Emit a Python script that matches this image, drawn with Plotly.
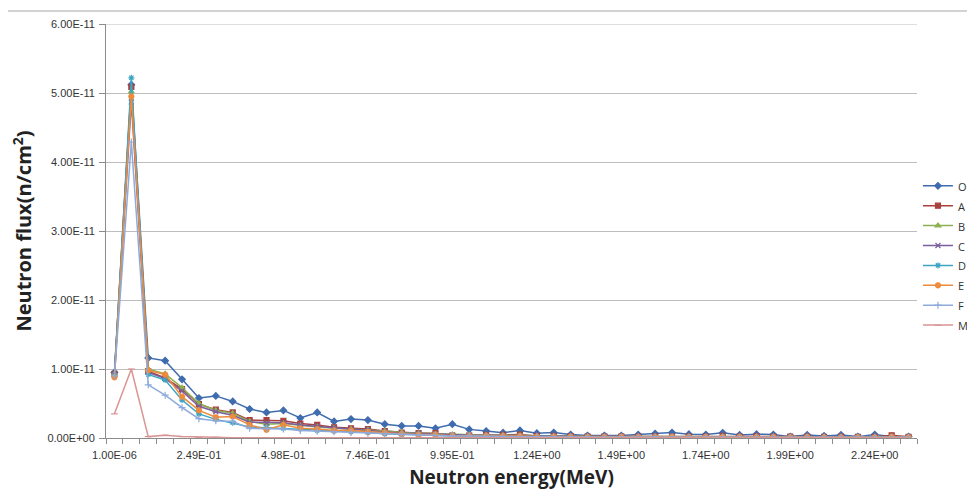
import plotly.graph_objects as go

# Energy categories (MeV)
energy = ["1.00E-06", "4.98E-02", "9.95E-02", "1.49E-01", "1.99E-01",
          "2.49E-01", "2.99E-01", "3.48E-01", "3.98E-01", "4.48E-01",
          "4.98E-01", "5.47E-01", "5.97E-01", "6.47E-01", "6.97E-01",
          "7.46E-01", "7.96E-01", "8.46E-01", "8.96E-01", "9.45E-01",
          "9.95E-01", "1.04E+00", "1.09E+00", "1.14E+00", "1.19E+00",
          "1.24E+00", "1.29E+00", "1.34E+00", "1.39E+00", "1.44E+00",
          "1.49E+00", "1.54E+00", "1.59E+00", "1.64E+00", "1.69E+00",
          "1.74E+00", "1.79E+00", "1.84E+00", "1.89E+00", "1.94E+00",
          "1.99E+00", "2.04E+00", "2.09E+00", "2.14E+00", "2.19E+00",
          "2.24E+00", "2.29E+00", "2.34E+00"]

x_tick_labels = ["1.00E-06", "2.49E-01", "4.98E-01", "7.46E-01", "9.95E-01",
                 "1.24E+00", "1.49E+00", "1.74E+00", "1.99E+00", "2.24E+00"]

# Flux values in units of 1E-11 n/cm2
O = [0.95, 5.12, 1.16, 1.12, 0.85, 0.58, 0.61, 0.53, 0.42, 0.37,
     0.40, 0.29, 0.37, 0.24, 0.275, 0.26, 0.20, 0.175, 0.175, 0.14,
     0.20, 0.125, 0.10, 0.077, 0.11, 0.07, 0.08, 0.05, 0.035, 0.035,
     0.035, 0.05, 0.065, 0.08, 0.055, 0.05, 0.075, 0.045, 0.055, 0.05,
     0.02, 0.045, 0.03, 0.045, 0.02, 0.05, 0.02, 0.02]
A = [0.93, 5.09, 0.97, 0.87, 0.71, 0.49, 0.41, 0.37, 0.26, 0.26,
     0.25, 0.21, 0.19, 0.155, 0.14, 0.13, 0.10, 0.08, 0.07, 0.07,
     0.035, 0.035, 0.045, 0.045, 0.05, 0.03, 0.03, 0.025, 0.02, 0.02,
     0.02, 0.02, 0.025, 0.02, 0.02, 0.02, 0.03, 0.02, 0.025, 0.02,
     0.02, 0.02, 0.015, 0.02, 0.015, 0.015, 0.04, 0.015]
B = [0.93, 5.02, 1.00, 0.93, 0.73, 0.50, 0.40, 0.36, 0.24, 0.20,
     0.21, 0.18, 0.16, 0.14, 0.13, 0.12, 0.10, 0.08, 0.07, 0.06,
     0.05, 0.045, 0.04, 0.04, 0.035, 0.03, 0.025, 0.025, 0.02, 0.02,
     0.02, 0.02, 0.02, 0.02, 0.02, 0.015, 0.02, 0.015, 0.02, 0.02,
     0.015, 0.015, 0.015, 0.015, 0.015, 0.015, 0.015, 0.015]
C = [0.92, 4.87, 0.95, 0.86, 0.68, 0.46, 0.38, 0.33, 0.23, 0.22,
     0.22, 0.19, 0.17, 0.15, 0.13, 0.12, 0.09, 0.07, 0.07, 0.06,
     0.04, 0.04, 0.04, 0.035, 0.03, 0.025, 0.025, 0.02, 0.02, 0.02,
     0.02, 0.015, 0.02, 0.02, 0.015, 0.015, 0.02, 0.015, 0.015, 0.015,
     0.015, 0.015, 0.01, 0.015, 0.01, 0.015, 0.01, 0.01]
D = [0.90, 5.22, 0.92, 0.84, 0.55, 0.35, 0.27, 0.22, 0.16, 0.15,
     0.14, 0.13, 0.11, 0.10, 0.09, 0.08, 0.06, 0.05, 0.05, 0.04,
     0.03, 0.03, 0.03, 0.025, 0.025, 0.02, 0.02, 0.015, 0.015, 0.015,
     0.015, 0.015, 0.015, 0.015, 0.01, 0.01, 0.015, 0.01, 0.01, 0.01,
     0.01, 0.01, 0.01, 0.01, 0.01, 0.01, 0.01, 0.01]
E = [0.88, 4.95, 0.98, 0.92, 0.60, 0.40, 0.30, 0.31, 0.19, 0.12,
     0.19, 0.14, 0.13, 0.11, 0.11, 0.09, 0.08, 0.06, 0.05, 0.05,
     0.03, 0.03, 0.035, 0.03, 0.03, 0.02, 0.02, 0.02, 0.015, 0.015,
     0.02, 0.015, 0.015, 0.02, 0.015, 0.015, 0.015, 0.015, 0.015, 0.015,
     0.01, 0.015, 0.01, 0.01, 0.01, 0.01, 0.02, 0.01]
F = [0.90, 4.29, 0.77, 0.62, 0.44, 0.28, 0.25, 0.24, 0.14, 0.14,
     0.13, 0.11, 0.10, 0.09, 0.08, 0.07, 0.06, 0.05, 0.04, 0.04,
     0.03, 0.03, 0.025, 0.02, 0.02, 0.02, 0.015, 0.015, 0.015, 0.01,
     0.01, 0.01, 0.015, 0.01, 0.01, 0.01, 0.01, 0.01, 0.01, 0.01,
     0.01, 0.01, 0.01, 0.01, 0.01, 0.01, 0.01, 0.01]
M = [0.35, 1.00, 0.02, 0.04, 0.02, 0.01, 0.01, 0.005, 0.005, 0.005,
     0.004, 0.004, 0.004, 0.003, 0.003, 0.003, 0.003, 0.003, 0.003, 0.002,
     0.002, 0.002, 0.002, 0.002, 0.002, 0.002, 0.002, 0.002, 0.002, 0.002,
     0.002, 0.002, 0.002, 0.002, 0.002, 0.002, 0.002, 0.002, 0.002, 0.002,
     0.002, 0.002, 0.002, 0.002, 0.002, 0.002, 0.002, 0.002]

UNIT = 1e-11

y_tick_values = [0, 1e-11, 2e-11, 3e-11, 4e-11, 5e-11, 6e-11]
y_tick_labels = ["0.00E+00", "1.00E-11", "2.00E-11", "3.00E-11",
                 "4.00E-11", "5.00E-11", "6.00E-11"]

series_names = ["O", "A", "B", "C", "D", "E", "F", "M"]
series_data = [O, A, B, C, D, E, F, M]
colors = ["#3F6CAF", "#A8423F", "#8DB052", "#7A5E9E", "#3FA4C2",
          "#EE8B3C", "#8EAADB", "#D99593"]
symbols = ["diamond", "square", "triangle-up", "x-thin-open", "asterisk-open",
           "circle", "cross-thin-open", "line-ew-open"]

fig = go.Figure()
for name, vals, col, sym in zip(series_names, series_data, colors, symbols):
    fig.add_trace(go.Scatter(
        x=energy, y=[v * UNIT for v in vals],
        mode="lines+markers", name="<span style='font-size:11px'>%s</span>" % name,
        line=dict(color=col, width=1.5),
        marker=dict(symbol=sym, size=5, color=col,
                    line=dict(color=col, width=1.2)),
    ))

ticktext_all = [e if e in x_tick_labels else " " for e in energy]

# The page body has an 8px margin, so the figure is 8px smaller and the
# margins are reduced accordingly to land the plot area where the reference has it.
fig.update_layout(
    width=967, height=486,
    margin=dict(l=98, r=58, t=16, b=56, autoexpand=False),
    paper_bgcolor="white", plot_bgcolor="white",
    font=dict(family="Open Sans, Liberation Sans, sans-serif", color="#222222"),
    showlegend=True,
    legend=dict(x=1.069, xanchor="right", y=0.44, yanchor="middle",
                font=dict(size=13, color="#333333"),
                bgcolor="rgba(0,0,0,0)", itemwidth=30, tracegroupgap=0),
    xaxis=dict(
        type="category", categoryorder="array", categoryarray=energy,
        tickmode="array", tickvals=energy, ticktext=ticktext_all,
        tickson="boundaries", ticks="outside", ticklen=5, tickcolor="#8c8c8c",
        ticklabelstandoff=7,
        showline=True, linecolor="#8c8c8c", linewidth=1,
        showgrid=False, zeroline=False, automargin=False,
        tickfont=dict(size=11, family="Liberation Sans, Arial, sans-serif", color="#333333"),
        tickangle=0,
        title=dict(text="<b>Neutron energy(MeV)</b>",
                   font=dict(size=19, family="Open Sans, sans-serif", color="#222222"),
                   standoff=10),
        range=[-0.5, len(energy) - 0.5],
    ),
    yaxis=dict(
        range=[0, 6e-11], tickmode="array", tickvals=y_tick_values,
        ticktext=y_tick_labels, ticks="outside", ticklen=6, tickcolor="#8c8c8c",
        ticklabelstandoff=2,
        showline=True, linecolor="#8c8c8c", linewidth=1,
        showgrid=True, gridcolor="#bdbdbd", gridwidth=1.2, zeroline=False,
        automargin=False,
        tickfont=dict(size=11, family="Liberation Sans, Arial, sans-serif", color="#333333"),
        title=dict(text="<b>Neutron flux(n/cm<sup>2</sup>)</b>",
                   font=dict(size=20, family="Open Sans, sans-serif", color="#222222"),
                   standoff=10),
    ),
    shapes=[
        dict(type="rect", xref="paper", yref="paper",
             x0=-0.1233, x1=1.2, y0=-0.3, y1=1.0314,
             line=dict(color="#a6a6a6", width=1), fillcolor="rgba(0,0,0,0)",
             layer="below"),
        dict(type="line", xref="paper", yref="y", x0=0, x1=1,
             y0=y_tick_values[-1], y1=y_tick_values[-1],
             line=dict(color="#bdbdbd", width=1.2), layer="below"),
    ],
)

fig.write_html("out.html")
